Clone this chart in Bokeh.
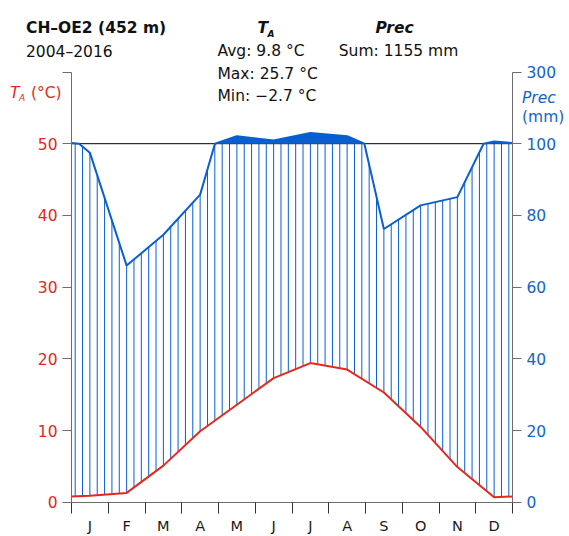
import numpy as np
from bokeh.plotting import figure
from bokeh.models import Range1d, LinearAxis, FixedTicker, Label
from bokeh.embed import file_html
from bokeh.resources import INLINE

# ---------------- data ----------------
months = ["J", "F", "M", "A", "M", "J", "J", "A", "S", "O", "N", "D"]
temp = [0.9, 1.3, 5.1, 9.9, 13.6, 17.3, 19.4, 18.5, 15.3, 10.5, 4.9, 0.7]      # °C
prec = [97.5, 66.0, 74.6, 85.8, 121.0, 109.0, 130.0, 121.0, 76.2, 82.8, 85.1, 106.0]  # mm
temp_ticks = [0, 10, 20, 30, 40, 50]
prec_ticks = [0, 20, 40, 60, 80, 100, 300]
station = "CH\u2013OE2 (452 m)"
period = "2004\u20132016"
t_avg, t_max, t_min = "9.8", "25.7", "\u22122.7"
p_sum = "1155"

FONT = "DejaVu Sans"
FS = "15.5px"
RED = "#e5281e"
BLUE = "#0a5fd0"
BLUE_T = "#1464c9"
GREY = "#6d6d6d"

W, H = 569, 536
# pixel geometry of the diagram frame
FL, FR, FT, FB = 71.0, 512.0, 71.5, 501.7
SX = (FR - FL) / 12.0
SY = (FB - FT) / 60.0


def dx(px):
    return (px - FL) / SX


def dy(py):
    return (FB - py) / SY


def tr(mm):
    """Walter-Lieth precipitation scale: 2 mm per degC up to 100 mm, 20 mm per degC above."""
    return mm / 2.0 if mm <= 100 else 50.0 + (mm - 100.0) / 20.0


# temperature polyline (month centres, edges = mean of Dec/Jan)
xs0 = [0.0] + [i + 0.5 for i in range(12)] + [12.0]
edge_t = (temp[0] + temp[-1]) / 2
tx = xs0
ty = [edge_t] + temp + [edge_t]

# precipitation polyline with kinks where it crosses 100 mm
edge_p = (prec[0] + prec[-1]) / 2
ps0 = [edge_p] + prec + [edge_p]
px, py = [], []
for i in range(len(xs0)):
    if i > 0:
        a, b = ps0[i - 1], ps0[i]
        if (a - 100) * (b - 100) < 0:
            f = (100 - a) / (b - a)
            px.append(xs0[i - 1] + f * (xs0[i] - xs0[i - 1]))
            py.append(50.0)
    px.append(xs0[i])
    py.append(tr(ps0[i]))
px = np.array(px)
py = np.array(py)

# ---------------- figure ----------------
p = figure(width=W, height=H,
           x_range=Range1d(dx(0), dx(W)), y_range=Range1d(dy(H), dy(0)),
           output_backend="svg", toolbar_location=None,
           x_axis_type=None, y_axis_type=None,
           min_border_left=0, min_border_right=0, min_border_top=0, min_border_bottom=0)
p.outline_line_color = None
p.background_fill_color = "white"
p.border_fill_color = "white"

# hatching (humid period)
hx = np.array([(k + 0.5) / 5.0 for k in range(60)])
h0 = np.interp(hx, tx, ty)
h1 = np.minimum(np.interp(hx, px, py), 50.0)
mask = h1 > h0
p.segment(x0=hx[mask], y0=h0[mask], x1=hx[mask], y1=h1[mask], line_color=BLUE, line_width=1)

# 100 mm line
p.line([0, 12], [50, 50], line_color="black", line_width=1)

# solid fill above 100 mm
p.varea(x=px, y1=np.full(len(px), 50.0), y2=np.maximum(py, 50.0), fill_color=BLUE, fill_alpha=1.0)

# lines
p.line(px, py, line_color=BLUE, line_width=2)
p.line(tx, ty, line_color=RED, line_width=2)

# ---------------- axes ----------------
yl = LinearAxis(ticker=FixedTicker(ticks=temp_ticks + [60]),
                major_label_overrides={60: ""}, fixed_location=0, bounds=(0, 60))
yl.axis_line_color = GREY
yl.major_tick_line_color = GREY
yl.major_tick_out = 9
yl.major_tick_in = 0
yl.minor_tick_out = 0
yl.minor_tick_in = 0
yl.major_label_text_color = RED
yl.major_label_text_font = FONT
yl.major_label_text_font_size = FS
yl.major_label_standoff = 5
p.add_layout(yl, "left")

rpos = [tr(v) for v in prec_ticks]
yr = LinearAxis(ticker=FixedTicker(ticks=rpos),
                major_label_overrides={pos: str(v) for pos, v in zip(rpos, prec_ticks)},
                fixed_location=12, bounds=(0, 60))
yr.axis_line_color = GREY
yr.major_tick_line_color = GREY
yr.major_tick_out = 9
yr.major_tick_in = 0
yr.minor_tick_out = 0
yr.minor_tick_in = 0
yr.major_label_text_color = BLUE_T
yr.major_label_text_font = FONT
yr.major_label_text_font_size = FS
yr.major_label_standoff = 5
p.add_layout(yr, "right")

centres = [i + 0.5 for i in range(12)]
xa = LinearAxis(ticker=FixedTicker(ticks=centres, minor_ticks=list(range(13))),
                major_label_overrides={c: m for c, m in zip(centres, months)},
                fixed_location=0, bounds=(0, 12))
xa.axis_line_color = GREY
xa.major_tick_out = 0
xa.major_tick_in = 0
xa.minor_tick_line_color = "#333333"
xa.minor_tick_out = 11
xa.minor_tick_in = 0
xa.major_label_text_font = FONT
xa.major_label_text_font_size = "14.5px"
xa.major_label_text_color = "#1a1a1a"
xa.major_label_standoff = 5
p.add_layout(xa, "below")


# ---------------- texts ----------------
def lab(text, x, y, size=FS, style="normal", color="#111111", align="left"):
    p.add_layout(Label(x=dx(x), y=dy(y), text=text, text_font=FONT, text_font_size=size,
                       text_font_style=style, text_color=color, text_align=align,
                       text_baseline="alphabetic"))


# header (pixel positions of the reference layout)
lab(station, 25.5, 27.3, style="bold")
lab(period, 25.5, 51.7)
lab("T", 257.0, 27.3, style="bold italic")
lab("A", 267.0, 33.3, size="9px", style="bold italic")
lab("Avg: " + t_avg + " \u00b0C", 217.0, 50.0)
lab("Max: " + t_max + " \u00b0C", 217.0, 73.3)
lab("Min: " + t_min + " \u00b0C", 217.0, 95.0)
lab("Prec", 394.0, 27.3, style="bold italic", align="center")
lab("Sum: " + p_sum + " mm", 398.0, 50.0, align="center")

# left axis title
lab("T", 9.5, 92.3, style="italic", color=RED)
lab("A", 18.5, 97.0, size="9px", style="italic", color=RED)
lab("(\u00b0C)", 30.5, 92.3, color=RED)
# right axis title
lab("Prec", 521.5, 97.0, style="italic", color=BLUE_T)
lab("(mm)", 521.5, 116.5, color=BLUE_T)

open("out.html", "w").write(file_html(p, INLINE))
